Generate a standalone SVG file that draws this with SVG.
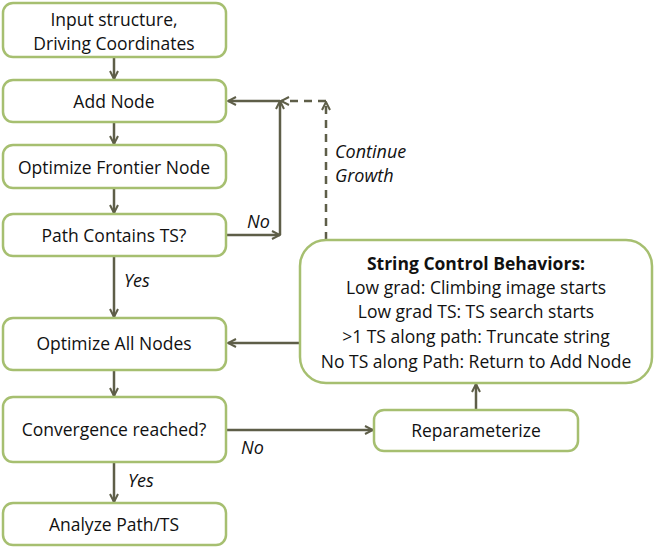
<svg xmlns="http://www.w3.org/2000/svg" width="654" height="548" viewBox="0 0 654 548">
<defs>
<marker id="ah" viewBox="0 0 10 10" refX="9" refY="5" markerWidth="10" markerHeight="10" markerUnits="userSpaceOnUse" orient="auto">
<path d="M1,1 L9,5 L1,9" fill="none" stroke="#5e5e48" stroke-width="2"/>
</marker>
</defs>
<style>
.box{fill:#fff;stroke:#a6bf70;stroke-width:2.5}
.t{font-family:"Open Sans","Noto Sans",sans-serif;font-size:17.5px;fill:#111;text-anchor:middle}
.b{font-weight:bold}
.lbl{font-family:"Open Sans","Noto Sans",sans-serif;font-size:18px;font-style:italic;fill:#111}
.c{fill:none;stroke:#5e5e48;stroke-width:2.5}
.d{stroke-dasharray:8,6}
</style>
<rect width="654" height="548" fill="#fff"/>
<g id="connectors">
<line class="c" x1="114" y1="57" x2="114" y2="79" marker-end="url(#ah)"/>
<line class="c" x1="114" y1="122" x2="114" y2="144" marker-end="url(#ah)"/>
<line class="c" x1="114" y1="188" x2="114" y2="213" marker-end="url(#ah)"/>
<line class="c" x1="226" y1="235" x2="280" y2="235" marker-end="url(#ah)"/>
<line class="c" x1="280" y1="235" x2="280" y2="101" marker-end="url(#ah)"/>
<line class="c" x1="280" y1="101" x2="228" y2="101" marker-end="url(#ah)"/>
<line class="c d" x1="326" y1="240" x2="326" y2="102" marker-end="url(#ah)"/>
<line class="c d" x1="326" y1="101" x2="281" y2="101" marker-end="url(#ah)"/>
<line class="c" x1="114" y1="256" x2="114" y2="317" marker-end="url(#ah)"/>
<line class="c" x1="300" y1="343" x2="228" y2="343" marker-end="url(#ah)"/>
<line class="c" x1="114" y1="370" x2="114" y2="396" marker-end="url(#ah)"/>
<line class="c" x1="226" y1="430" x2="373" y2="430" marker-end="url(#ah)"/>
<line class="c" x1="476" y1="410" x2="476" y2="384" marker-end="url(#ah)"/>
<line class="c" x1="114" y1="462" x2="114" y2="502" marker-end="url(#ah)"/>
<text class="lbl" x="247" y="228">No</text>
<text class="lbl" x="335" y="158">Continue</text>
<text class="lbl" x="335" y="182">Growth</text>
<text class="lbl" x="124" y="287">Yes</text>
<text class="lbl" x="241" y="454">No</text>
<text class="lbl" x="128" y="487">Yes</text>
</g>
<g id="n1"><rect class="box" x="3" y="3" width="223" height="54" rx="10"/><text class="t" x="114" y="26">Input structure,</text><text class="t" x="114" y="50">Driving Coordinates</text></g>
<g id="n2"><rect class="box" x="3" y="80" width="223" height="42" rx="10"/><text class="t" x="114" y="108">Add Node</text></g>
<g id="n3"><rect class="box" x="3" y="145" width="223" height="43" rx="10"/><text class="t" x="114" y="174">Optimize Frontier Node</text></g>
<g id="n4"><rect class="box" x="3" y="214" width="223" height="42" rx="10"/><text class="t" x="114" y="242">Path Contains TS?</text></g>
<g id="n5"><rect class="box" x="3" y="318" width="223" height="52" rx="10"/><text class="t" x="114" y="350">Optimize All Nodes</text></g>
<g id="n6"><rect class="box" x="3" y="397" width="223" height="65" rx="10"/><text class="t" x="114" y="436">Convergence reached?</text></g>
<g id="n7"><rect class="box" x="3" y="503" width="223" height="42" rx="10"/><text class="t" x="114" y="531">Analyze Path/TS</text></g>
<g id="n8"><rect class="box" x="300" y="240" width="352" height="143" rx="26"/>
<text class="t b" x="476" y="270">String Control Behaviors:</text>
<text class="t" x="476" y="294">Low grad: Climbing image starts</text>
<text class="t" x="476" y="318">Low grad TS: TS search starts</text>
<text class="t" x="476" y="343">&gt;1 TS along path: Truncate string</text>
<text class="t" x="476" y="368">No TS along Path: Return to Add Node</text>
</g>
<g id="n9"><rect class="box" x="374" y="410" width="204" height="41" rx="10"/><text class="t" x="476" y="437">Reparameterize</text></g>
</svg>
